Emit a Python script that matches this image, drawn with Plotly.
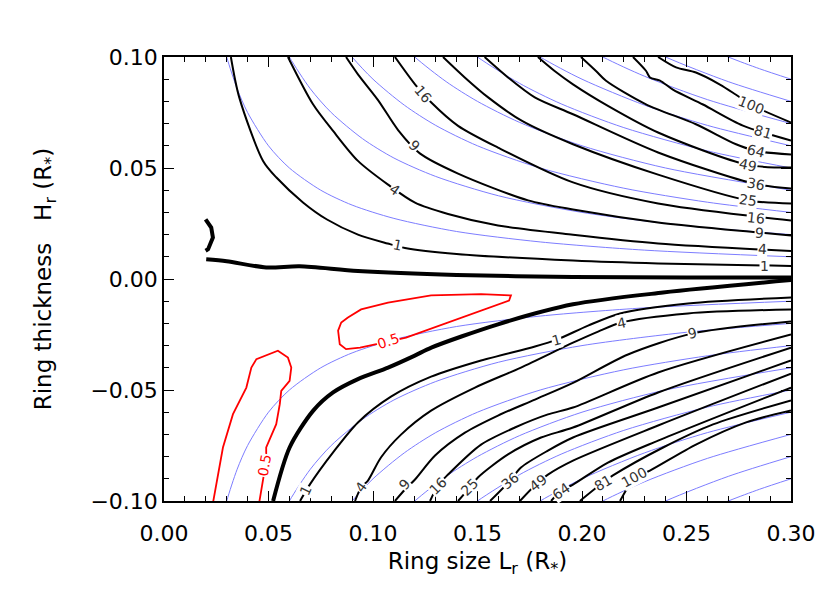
import plotly.graph_objects as go

# ---- model curves (thin blue), upper half; the lower half is their mirror image
blue_L = [
    [0.027, 0.03, 0.035, 0.04, 0.05, 0.06, 0.075, 0.09, 0.11, 0.14, 0.18, 0.23, 0.30],
    [0.054, 0.06, 0.07, 0.08, 0.095, 0.11, 0.13, 0.16, 0.20, 0.25, 0.30],
    [0.081, 0.09, 0.10, 0.115, 0.13, 0.15, 0.18, 0.22, 0.26, 0.30],
    [0.108, 0.12, 0.135, 0.15, 0.17, 0.20, 0.24, 0.30],
    [0.135, 0.15, 0.17, 0.19, 0.22, 0.26, 0.30],
    [0.162, 0.18, 0.20, 0.23, 0.26, 0.30],
    [0.189, 0.21, 0.23, 0.26, 0.30],
    [0.216, 0.24, 0.27, 0.30],
    [0.243, 0.27, 0.285, 0.30],
]
blue_H = [
    [0.1111, 0.1, 0.0857, 0.075, 0.06, 0.05, 0.04, 0.0333, 0.0273, 0.0214, 0.0167, 0.013, 0.01],
    [0.1111, 0.1, 0.0857, 0.075, 0.0632, 0.0545, 0.0462, 0.0375, 0.03, 0.024, 0.02],
    [0.1111, 0.1, 0.09, 0.0783, 0.0692, 0.06, 0.05, 0.0409, 0.0346, 0.03],
    [0.1111, 0.1, 0.0889, 0.08, 0.0706, 0.06, 0.05, 0.04],
    [0.1111, 0.1, 0.0882, 0.0789, 0.0682, 0.0577, 0.05],
    [0.1111, 0.1, 0.09, 0.0783, 0.0692, 0.06],
    [0.1111, 0.1, 0.0913, 0.0808, 0.07],
    [0.1111, 0.1, 0.0889, 0.08],
    [0.1111, 0.1, 0.0947, 0.09],
]

# ---- measured contours (black), levels 1, 4, 9 ... 100
levels = [1, 4, 9, 16, 25, 36, 49, 64, 81, 100]

upper_L = [
    [0.032, 0.036, 0.0474, 0.0538, 0.0665, 0.078, 0.0928, 0.107, 0.1153, 0.140, 0.1957, 0.2364, 0.300],
    [0.0593, 0.0713, 0.0809, 0.0928, 0.1072, 0.1201, 0.1359, 0.1598, 0.1957, 0.2364, 0.300],
    [0.0871, 0.0928, 0.1024, 0.1120, 0.1224, 0.1407, 0.1742, 0.1957, 0.2364, 0.2842, 0.300],
    [0.1105, 0.1201, 0.1279, 0.1407, 0.1598, 0.1957, 0.2364, 0.2842, 0.300],
    [0.1335, 0.1439, 0.1551, 0.1711, 0.1957, 0.2364, 0.2794, 0.300],
    [0.1534, 0.1646, 0.1774, 0.1957, 0.2364, 0.2833, 0.300],
    [0.1789, 0.1869, 0.1957, 0.2124, 0.2364, 0.2794, 0.300],
    [0.1995, 0.2067, 0.2115, 0.2306, 0.2545, 0.2737, 0.2833, 0.300],
    [0.2244, 0.2306, 0.2325, 0.2373, 0.2435, 0.2579, 0.2770, 0.300],
    [0.2364, 0.2450, 0.2545, 0.2660, 0.2737, 0.2809, 0.300],
]
upper_H = [
    [0.100, 0.0818, 0.0532, 0.0457, 0.0345, 0.0268, 0.0200, 0.016, 0.0140, 0.0113, 0.0083, 0.0070, 0.0059],
    [0.100, 0.0787, 0.0667, 0.0532, 0.0425, 0.0344, 0.0293, 0.0241, 0.0199, 0.0160, 0.0126],
    [0.100, 0.0922, 0.0806, 0.0671, 0.0566, 0.0475, 0.0354, 0.0313, 0.0255, 0.0210, 0.0196],
    [0.100, 0.0877, 0.0795, 0.0690, 0.0592, 0.0435, 0.0340, 0.0280, 0.0264],
    [0.100, 0.0908, 0.0818, 0.0713, 0.0607, 0.0470, 0.0354, 0.0340],
    [0.100, 0.0908, 0.0818, 0.0742, 0.0570, 0.0427, 0.0408],
    [0.100, 0.0937, 0.0877, 0.0780, 0.0660, 0.0514, 0.0502],
    [0.100, 0.0937, 0.0893, 0.0787, 0.0697, 0.0607, 0.0577, 0.0561],
    [0.100, 0.0938, 0.0908, 0.0894, 0.0853, 0.0786, 0.0691, 0.0624],
    [0.100, 0.0953, 0.0930, 0.0876, 0.0830, 0.0785, 0.0705],
]

lower_L = [
    [0.0651, 0.0699, 0.0809, 0.0928, 0.1086, 0.1278, 0.1517, 0.1775, 0.1880, 0.2029, 0.2182, 0.2507, 0.300],
    [0.0914, 0.0943, 0.0976, 0.1038, 0.1134, 0.1278, 0.1488, 0.1708, 0.1957, 0.2077, 0.2187, 0.2507, 0.300],
    [0.1105, 0.1153, 0.1201, 0.1297, 0.1440, 0.1598, 0.1775, 0.1957, 0.2220, 0.2531, 0.300],
    [0.1273, 0.1311, 0.1359, 0.1517, 0.1679, 0.1837, 0.1957, 0.2364, 0.300],
    [0.1407, 0.1464, 0.1502, 0.1646, 0.1804, 0.1957, 0.2364, 0.300],
    [0.1560, 0.1656, 0.1708, 0.1837, 0.1957, 0.2364, 0.300],
    [0.1703, 0.1789, 0.1837, 0.1957, 0.2364, 0.300],
    [0.1852, 0.1900, 0.1957, 0.2124, 0.2364, 0.300],
    [0.1990, 0.2100, 0.2148, 0.2388, 0.2627, 0.300],
    [0.2182, 0.2254, 0.2325, 0.2545, 0.2785, 0.300],
]
lower_H = [
    [-0.100, -0.0924, -0.0781, -0.0646, -0.0530, -0.0440, -0.0367, -0.0304, -0.0273, -0.0210, -0.0155, -0.0110, -0.0083],
    [-0.100, -0.0939, -0.0908, -0.0804, -0.0701, -0.0593, -0.0489, -0.0399, -0.0287, -0.0237, -0.0196, -0.0155, -0.0137],
    [-0.100, -0.0948, -0.0903, -0.0795, -0.0692, -0.0615, -0.0543, -0.0468, -0.0340, -0.0245, -0.0191],
    [-0.100, -0.0930, -0.0881, -0.0746, -0.0669, -0.0610, -0.0579, -0.0421, -0.0250],
    [-0.100, -0.0939, -0.0894, -0.0790, -0.0714, -0.0669, -0.0511, -0.0309],
    [-0.100, -0.0908, -0.0849, -0.0773, -0.0714, -0.0579, -0.0367],
    [-0.100, -0.0917, -0.0881, -0.0818, -0.0660, -0.0426],
    [-0.100, -0.0953, -0.0926, -0.0827, -0.0728, -0.0489],
    [-0.100, -0.0917, -0.0885, -0.0759, -0.0655, -0.0547],
    [-0.100, -0.0894, -0.0863, -0.0746, -0.0646, -0.0592],
]

# zero-level (thick) contours
zero_upper_L = [0.0202, 0.030, 0.0489, 0.0649, 0.0928, 0.140, 0.1957, 0.250, 0.300]
zero_upper_H = [0.0089, 0.0080, 0.0052, 0.0057, 0.0036, 0.0018, 0.0009, 0.0007, 0.0007]
zero_hook_L = [0.0199, 0.0226, 0.0234, 0.0211, 0.0199]
zero_hook_H = [0.0269, 0.0232, 0.0187, 0.0134, 0.0127]
zero_lower_L = [0.0522, 0.0601, 0.0713, 0.0809, 0.0928, 0.1072, 0.1200, 0.1279, 0.1598, 0.1957, 0.2388, 0.300]
zero_lower_H = [-0.100, -0.0759, -0.0594, -0.0511, -0.0451, -0.0399, -0.0345, -0.0309, -0.0204, -0.0114, -0.0061, -0.0005]

# 0.5 level (red)
red_a_L = [0.0880, 0.0943, 0.1072, 0.1278, 0.1517, 0.1660, 0.1651, 0.1517, 0.1359, 0.1158, 0.1072,
           0.0938, 0.0871, 0.0841, 0.0833, 0.0848, 0.0880]
red_a_H = [-0.0173, -0.0137, -0.0106, -0.0074, -0.0068, -0.0074, -0.0097, -0.0142, -0.0196, -0.0264, -0.0282,
           -0.0309, -0.0316, -0.0294, -0.0233, -0.0196, -0.0173]
red_b_L = [0.0234, 0.0282, 0.0330, 0.0394, 0.0418, 0.0442, 0.0545, 0.0593, 0.0609, 0.0601, 0.0561,
           0.0554, 0.0537, 0.0489, 0.0489, 0.0458, 0.0455]
red_b_H = [-0.101, -0.0759, -0.0609, -0.0489, -0.0399, -0.0361, -0.0323, -0.0354, -0.0399, -0.0459, -0.0504,
           -0.0564, -0.0654, -0.0759, -0.0819, -0.0977, -0.101]

BLUE = "rgb(125,125,255)"
fig = go.Figure()

def line(x, y, color, width, shape="spline"):
    fig.add_trace(go.Scatter(x=x, y=y, mode="lines", hoverinfo="skip",
                             line=dict(color=color, width=width, shape=shape, smoothing=0.8)))

for Ls, Hs in zip(blue_L, blue_H):
    line(Ls, Hs, BLUE, 1)
    line(Ls, [-h for h in Hs], BLUE, 1)

for Ls, Hs in zip(upper_L, upper_H):
    line(Ls, Hs, "black", 2)
for Ls, Hs in zip(lower_L, lower_H):
    line(Ls, Hs, "black", 2)

line(red_a_L, red_a_H, "red", 1.8, "linear")
line(red_b_L, red_b_H, "red", 1.8, "linear")

line(zero_upper_L, zero_upper_H, "black", 4)
line(zero_hook_L, zero_hook_H, "black", 4, "linear")
line(zero_lower_L, zero_lower_H, "black", 4)

# contour labels: text, L, H, angle
lab_text = ["1", "4", "9", "16",
            "1", "4", "9", "16", "25", "36", "49", "64", "81", "100",
            "1", "4", "9", "16", "25", "36", "49", "64", "81", "100",
            "1", "4", "9"]
lab_L = [0.1115, 0.1105, 0.1200, 0.1239,
         0.2873, 0.2866, 0.2850, 0.2833, 0.2794, 0.2833, 0.2794, 0.2833, 0.2866, 0.2809,
         0.0675, 0.0944, 0.1152, 0.1311, 0.1463, 0.1654, 0.1789, 0.1901, 0.2100, 0.2252,
         0.1880, 0.2187, 0.2531]
lab_H = [0.0151, 0.0399, 0.0600, 0.0832,
         0.0060, 0.0134, 0.0205, 0.0274, 0.0354, 0.0427, 0.0514, 0.0577, 0.0660, 0.0785,
         -0.0953, -0.0939, -0.0924, -0.0932, -0.0939, -0.0909, -0.0917, -0.0954, -0.0917, -0.0894,
         -0.0273, -0.0196, -0.0245]
lab_angle = [12, 35, 45, 50,
             0, 3, 5, 6, 8, 10, 12, 14, 16, 22,
             -65, -55, -50, -45, -45, -40, -38, -35, -30, -28,
             -15, -12, -12]

annotations = []
for t, x, y, a in zip(lab_text, lab_L, lab_H, lab_angle):
    annotations.append(dict(x=x, y=y, text=t, showarrow=False, textangle=a,
                            bgcolor="white", borderpad=0,
                            font=dict(family="DejaVu Sans", size=14, color="#333")))
for x, y, a in [(0.1072, -0.0278, -18), (0.0483, -0.0840, -80)]:
    annotations.append(dict(x=x, y=y, text="0.5", showarrow=False, textangle=a,
                            bgcolor="white", borderpad=0,
                            font=dict(family="DejaVu Sans", size=14, color="red")))

TITLE_FONT = dict(family="DejaVu Sans", size=23, color="black")
axis_style = dict(showline=True, linecolor="black", linewidth=1.5, mirror="ticks",
                  ticks="inside", ticklen=10, tickwidth=1.2, tickcolor="black",
                  showgrid=False, zeroline=False, tickformat=".2f", automargin=False,
                  tickfont=dict(family="DejaVu Sans", size=22, color="black"),
                  minor=dict(ticks="inside", ticklen=5, tickwidth=1.2, tickcolor="black", dtick=0.01))

fig.update_xaxes(range=[0, 0.30], dtick=0.05, ticklabelstandoff=12,
                 title=dict(text="Ring size L<sub>r</sub> (R<sub>*</sub>)", standoff=8, font=TITLE_FONT),
                 **axis_style)
fig.update_yaxes(range=[-0.10, 0.10], dtick=0.05,
                 title=dict(text="Ring thickness\u00a0\u00a0\u00a0H<sub>r</sub> (R<sub>*</sub>)",
                            standoff=32, font=TITLE_FONT),
                 **axis_style)

fig.update_layout(width=830, height=593, showlegend=False,
                  margin=dict(l=156, r=47, t=49, b=100),
                  plot_bgcolor="white", paper_bgcolor="white",
                  annotations=annotations)

fig.write_html("out.html")
